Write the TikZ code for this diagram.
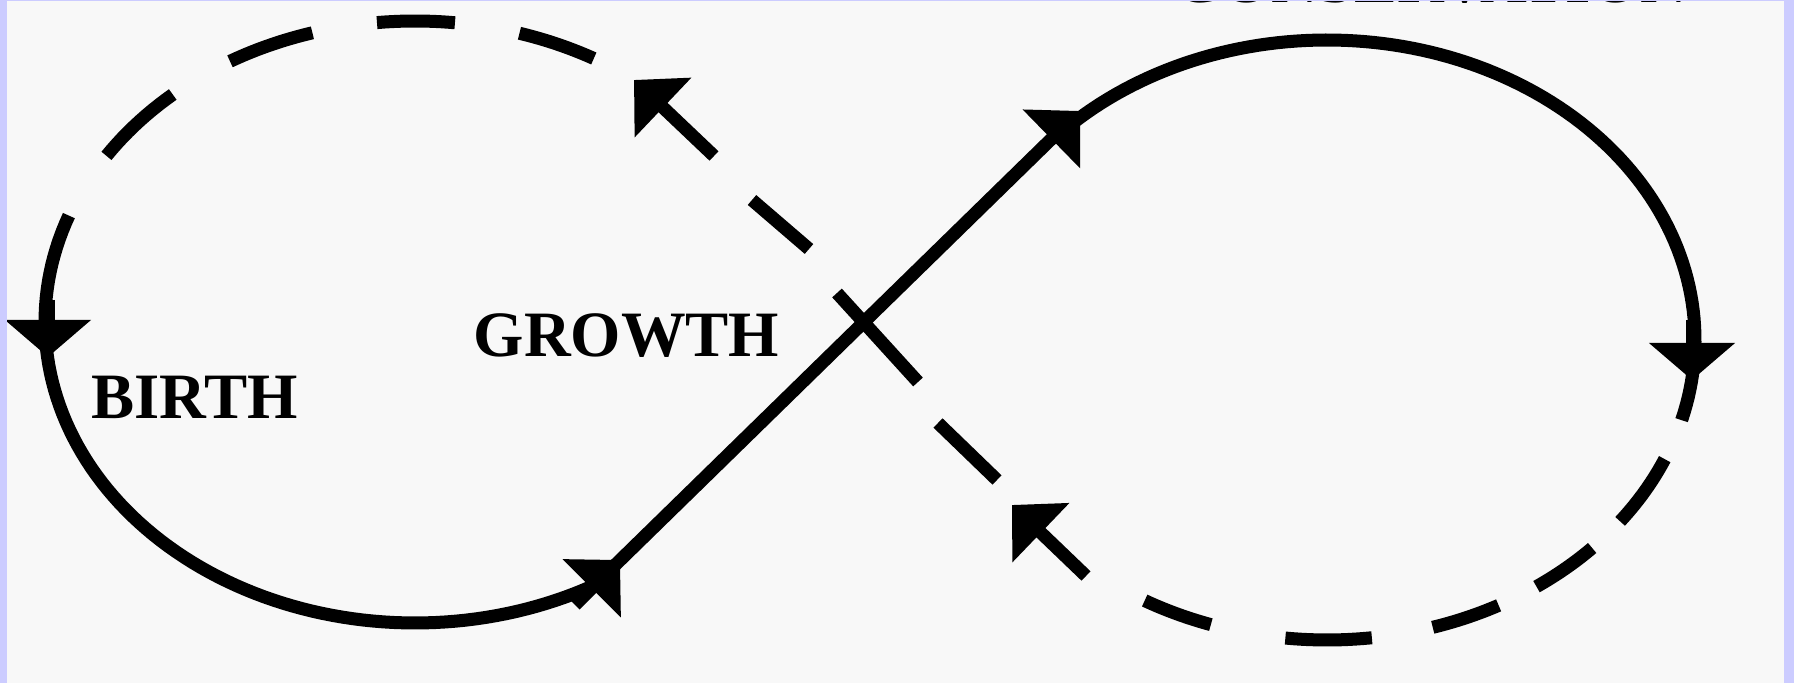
\documentclass[tikz,border=0pt]{standalone}
\usepackage{fontspec}
\setmainfont{Liberation Serif}[BoldFont={Liberation Serif Bold}]
\usetikzlibrary{arrows.meta,calc}
\definecolor{bg}{HTML}{F8F8F8}
\definecolor{lav}{HTML}{CCCCFF}
\begin{document}
\begin{tikzpicture}[x=0.01cm,y=-0.01cm,
  curve/.style={line width=0.13cm, line cap=butt},
  ah/.style={line width=0.13cm, -{Triangle[length=0.40cm,width=0.80cm]}},
  ahv/.style={line width=0.13cm, -{Triangle[length=0.37cm,width=0.84cm]}},
  lbl/.style={font=\bfseries\fontsize{18.4}{22}\selectfont, inner sep=0pt, anchor=base}]
\useasboundingbox (0,0) rectangle (1794,683);
\begin{scope}
\clip (0,0) rectangle (1794,683);
\fill[bg] (0,0) rectangle (1794,683);
% labels
\node[lbl] (birth) at (194.5,419) {BIRTH};
\node[lbl] (growth) at (626.5,357) {GROWTH};
\node[lbl] (cons) at (1431,2.5) {CONSERVATION};
% key points
\coordinate (ne1) at (620,560);
\coordinate (ne1s) at (575,605);
\coordinate (ne1i) at (608,572);
\coordinate (ne2) at (1080,111);
\coordinate (nw1) at (634,80);
\coordinate (nw1s) at (714,156);
\coordinate (nw2) at (1012,505);
\coordinate (nw2s) at (1086,576);
\coordinate (dl) at (48,357);
\coordinate (dls) at (48,300);
\coordinate (dr) at (1692,380);
\coordinate (drs) at (1692,320);
% solid part
\draw[curve] plot[domain=200.7:58, samples=90, variable=\t] ({415+370*cos(\t)},{322+301*sin(\t)});
\draw[curve] plot[domain=226:375.5, samples=100, variable=\t] ({1327+368*cos(\t)},{340+300*sin(\t)});
\draw[ah] (ne1i) -- (ne2);
\draw[ah] (ne1s) -- (ne1);
\draw[ahv] (dls) -- (dl);
\draw[ahv] (drs) -- (dr);
% dashed part
\foreach \a/\b in {213.5/229.1, 240/253.9, 264.1/276.2, 286.4/298.9}
  \draw[curve] plot[domain=\a:\b, samples=12, variable=\t] ({415+370*cos(\t)},{322+301*sin(\t)});
\foreach \a/\b in {23.4/37.2, 43.9/55.3, 62.2/73.3, 83/96.5, 108.4/119.7}
  \draw[curve] plot[domain=\a:\b, samples=12, variable=\t] ({1327+368*cos(\t)},{340+300*sin(\t)});
\draw[curve] (752,200) -- (809,249);
\draw[curve] (837,293) -- (918,382);
\draw[curve] (938,423) -- (997,480);
\draw[ah] (nw1s) -- (nw1);
\draw[ah] (nw2s) -- (nw2);
% frame
\fill[lav] (0,0) rectangle (7,683);
\fill[lav] (0,0) rectangle (1794,1.5);
\fill[lav] (1784,0) rectangle (1794,683);
\end{scope}
\end{tikzpicture}
\end{document}
